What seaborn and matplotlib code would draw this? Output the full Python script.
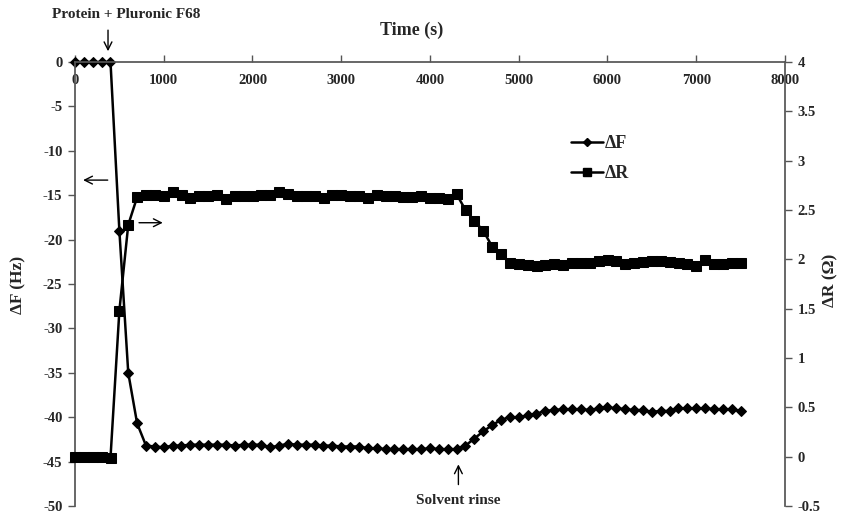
import matplotlib
matplotlib.use("Agg")
import matplotlib.pyplot as plt
import seaborn as sns
import pandas as pd
from matplotlib.lines import Line2D

time_s = [0, 100, 200, 300, 400, 500, 600, 700, 800, 900,
          1000, 1100, 1200, 1300, 1400, 1500, 1600, 1700, 1800, 1900,
          2000, 2100, 2200, 2300, 2400, 2500, 2600, 2700, 2800, 2900,
          3000, 3100, 3200, 3300, 3400, 3500, 3600, 3700, 3800, 3900,
          4000, 4100, 4200, 4300, 4400, 4500, 4600, 4700, 4800, 4900,
          5000, 5100, 5200, 5300, 5400, 5500, 5600, 5700, 5800, 5900,
          6000, 6100, 6200, 6300, 6400, 6500, 6600, 6700, 6800, 6900,
          7000, 7100, 7200, 7300, 7400, 7500]

delta_f = [0, 0, 0, 0, 0, -19.0, -35.0, -40.7, -43.2, -43.3,
           -43.4, -43.2, -43.2, -43.1, -43.1, -43.1, -43.1, -43.1, -43.2, -43.1,
           -43.1, -43.1, -43.4, -43.2, -43.0, -43.1, -43.1, -43.1, -43.2, -43.2,
           -43.3, -43.3, -43.3, -43.5, -43.5, -43.6, -43.6, -43.6, -43.6, -43.6,
           -43.5, -43.6, -43.6, -43.6, -43.2, -42.4, -41.6, -40.9, -40.3, -40.0,
           -40.0, -39.8, -39.6, -39.3, -39.2, -39.1, -39.1, -39.1, -39.2, -39.0,
           -38.9, -39.0, -39.1, -39.2, -39.2, -39.4, -39.3, -39.3, -39.0, -39.0,
           -39.0, -39.0, -39.1, -39.1, -39.1, -39.3]

delta_r = [0.0, 0.0, 0.0, 0.0, -0.01, 1.48, 2.35, 2.63, 2.65, 2.65,
           2.64, 2.68, 2.65, 2.62, 2.64, 2.64, 2.65, 2.61, 2.64, 2.64,
           2.64, 2.65, 2.65, 2.68, 2.66, 2.64, 2.64, 2.64, 2.62, 2.65,
           2.65, 2.64, 2.64, 2.62, 2.65, 2.64, 2.64, 2.63, 2.63, 2.64,
           2.62, 2.62, 2.61, 2.66, 2.50, 2.39, 2.29, 2.13, 2.05, 1.96,
           1.95, 1.94, 1.93, 1.94, 1.95, 1.94, 1.96, 1.96, 1.96, 1.98,
           1.99, 1.98, 1.95, 1.96, 1.97, 1.98, 1.98, 1.97, 1.96, 1.95,
           1.93, 1.99, 1.95, 1.95, 1.96, 1.96]

x_ticks = [0, 1000, 2000, 3000, 4000, 5000, 6000, 7000, 8000]
left_ticks = [0, -5, -10, -15, -20, -25, -30, -35, -40, -45, -50]
right_ticks = [-0.5, 0, 0.5, 1, 1.5, 2, 2.5, 3, 3.5, 4]
right_labels = ["-0.5", "0", "0.5", "1", "1.5", "2", "2.5", "3", "3.5", "4"]

df = pd.DataFrame({"time": time_s, "dF": delta_f, "dR": delta_r})

sns.set_theme(style="white")
plt.rcParams["font.family"] = ["Liberation Serif", "DejaVu Serif"]
plt.rcParams["font.weight"] = "bold"

fig = plt.figure(figsize=(8.45, 5.15), dpi=100)
ax1 = fig.add_axes([75 / 845, 1 - 506 / 515, 710 / 845, 444 / 515])
ax2 = ax1.twinx()

sns.lineplot(data=df, x="time", y="dF", ax=ax1, color="black", marker="D",
             markersize=5, markeredgecolor="black", linewidth=1.8, sort=False)
sns.lineplot(data=df, x="time", y="dR", ax=ax2, color="black", marker="s",
             markersize=6.5, markeredgecolor="black", linewidth=1.8, sort=False)
for ln in ax1.get_lines() + ax2.get_lines():
    ln.set_clip_on(False)

ax1.set_xlim(0, 8000)
ax1.set_ylim(-50, 0)
ax2.set_ylim(-0.5, 4)
ax1.set_xlabel("")
ax1.set_ylabel("")
ax2.set_ylabel("")

ax1.set_xticks(x_ticks)
ax1.set_xticklabels([str(t) for t in x_ticks])
ax1.set_yticks(left_ticks)
ax1.set_yticklabels([str(t) for t in left_ticks])
ax2.set_yticks(right_ticks)
ax2.set_yticklabels(right_labels)

spine_col = "#555555"
for s in ["top", "right"]:
    ax1.spines[s].set_visible(False)
ax1.spines["bottom"].set_position(("data", 0))
ax1.spines["bottom"].set_color(spine_col)
ax1.spines["left"].set_color(spine_col)
for s in ["top", "left", "bottom"]:
    ax2.spines[s].set_visible(False)
ax2.spines["right"].set_color(spine_col)

ax1.tick_params(axis="x", direction="in", length=5, width=1, color=spine_col,
                labelsize=10.5, pad=9, bottom=True)
ax1.tick_params(axis="y", direction="out", length=5, width=1, color=spine_col,
                labelsize=10.5, pad=4, left=True)
ax2.tick_params(axis="y", direction="out", length=5, width=1, color=spine_col,
                labelsize=10.5, pad=4, right=True)
for lab in ax1.get_xticklabels() + ax1.get_yticklabels() + ax2.get_yticklabels():
    lab.set_fontweight("bold")
ax1.grid(False)
ax2.grid(False)

# axis titles
fig.text(412 / 845, 1 - 30 / 515, "Time (s)", ha="center", va="center",
         fontsize=13, fontweight="bold")
fig.text(18 / 845, 1 - 285 / 515, "ΔF (Hz)", ha="center", va="center",
         rotation=90, fontsize=12.5, fontweight="bold")
fig.text(830 / 845, 1 - 280 / 515, "ΔR (Ω)", ha="center", va="center",
         rotation=90, fontsize=12.5, fontweight="bold")

arrow = dict(arrowstyle="->", color="black", lw=1, mutation_scale=14)
# Protein + Pluronic F68 annotation
ax1.annotate("", xy=(372, 0.9), xytext=(372, 3.9), arrowprops=arrow,
             annotation_clip=False)
ax1.text(580, 5.3, "Protein + Pluronic F68", ha="center", va="center",
         fontsize=11, fontweight="bold", clip_on=False)
# axis pointer arrows
ax1.annotate("", xy=(60, -13.3), xytext=(400, -13.3), arrowprops=arrow)
ax1.annotate("", xy=(1020, -18.1), xytext=(690, -18.1), arrowprops=arrow)
# Solvent rinse annotation
ax1.annotate("", xy=(4320, -45.0), xytext=(4320, -47.9), arrowprops=arrow,
             annotation_clip=False)
ax1.text(4320, -49.4, "Solvent rinse", ha="center", va="center",
         fontsize=11, fontweight="bold", clip_on=False)

handles = [
    Line2D([0], [0], color="black", marker="D", markersize=4, lw=1.8),
    Line2D([0], [0], color="black", marker="s", markersize=5.5, lw=1.8),
]
leg = ax2.legend(handles, ["ΔF", "ΔR"], loc="center left",
                 bbox_to_anchor=(571 / 845, 1 - 159 / 515),
                 bbox_transform=fig.transFigure, frameon=False,
                 borderaxespad=0, borderpad=0,
                 handlelength=1.75, handletextpad=0.1, labelspacing=0.72,
                 prop={"size": 13, "weight": "bold"})

fig.savefig("out.png", dpi=100)
